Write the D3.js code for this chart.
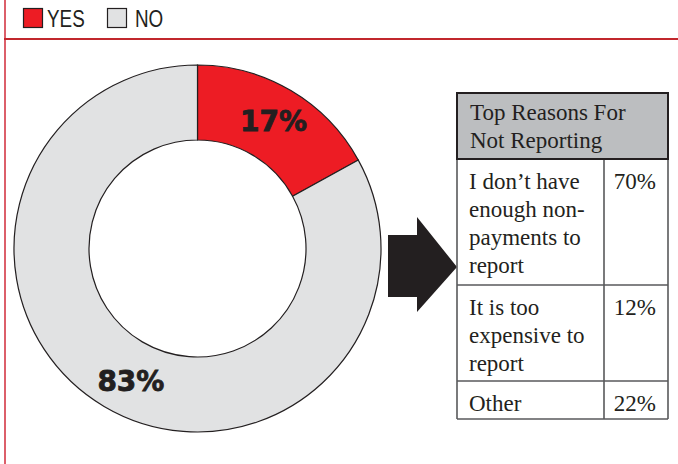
<!DOCTYPE html>
<html>
<head>
<meta charset="utf-8">
<script src="https://cdn.jsdelivr.net/npm/d3@7"></script>
<style>
  html, body { margin: 0; padding: 0; background: #fff; }
  svg { display: block; }
</style>
</head>
<body>
<svg id="chart" width="678" height="464"></svg>
<script>
// Survey answers
const answers = ["YES", "NO"];
const answerShares = [17, 83];
const answerColors = ["#ed1c24", "#e1e2e3"];

// Reasons table
const tableTitle = ["Top Reasons For", "Not Reporting"];
const reasonLines = [
  ["I don\u2019t have", "enough non-", "payments to", "report"],
  ["It is too", "expensive to", "report"],
  ["Other"]
];
const reasonShares = [70, 12, 22];

const svg = d3.select("#chart");
const W = 678, H = 464;
const ink = "#231f20";

// Frame rules
svg.append("line").attr("x1", 5).attr("x2", 5).attr("y1", 0).attr("y2", H)
  .attr("stroke", "#dc5f6a").attr("stroke-width", 2);
svg.append("line").attr("x1", 4).attr("x2", W).attr("y1", 39).attr("y2", 39)
  .attr("stroke", "#c1272d").attr("stroke-width", 2);

// Legend
const legend = svg.append("g");
const legendX = d3.scaleOrdinal().domain(answers).range([23, 107]);
answers.forEach((a, i) => {
  const g = legend.append("g").attr("transform", `translate(${legendX(a)},8)`);
  g.append("rect").attr("x", 0.5).attr("y", 0.5).attr("width", 19).attr("height", 19)
    .attr("fill", answerColors[i]).attr("stroke", ink).attr("stroke-width", 1.2);
  g.append("text")
    .attr("transform", `translate(${i === 0 ? 24 : 28},19) scale(0.82,1)`)
    .attr("font-family", "'Liberation Sans', Arial, sans-serif")
    .attr("font-size", 23).attr("fill", ink).text(a);
});

// Donut
const cx = 197.5, cy = 248.5, rOuter = 183.5, rInner = 108.5;
const pie = d3.pie().sort(null).value(d => d.v);
const arcs = pie(answers.map((a, i) => ({ a, v: answerShares[i], c: answerColors[i] })));
const arc = d3.arc().innerRadius(rInner).outerRadius(rOuter);
const donut = svg.append("g").attr("transform", `translate(${cx},${cy})`);
donut.selectAll("path").data(arcs).join("path")
  .attr("d", arc)
  .attr("fill", d => d.data.c)
  .attr("stroke", ink).attr("stroke-width", 1.2);

// Percentage labels sit mid-ring, just before each slice's angular midpoint
const labelR = 148;
const labelPos = d => {
  const a = d.startAngle + (d.endAngle - d.startAngle) * 0.49;
  return [labelR * Math.sin(a), -labelR * Math.cos(a)];
};
donut.selectAll("text").data(arcs).join("text")
  .attr("transform", d => { const [x, y] = labelPos(d); return `translate(${x + 2},${y + 1})`; })
  .attr("text-anchor", "middle").attr("dy", "0.36em")
  .attr("font-family", "'DejaVu Sans', sans-serif")
  .attr("font-weight", "bold").attr("font-size", 28).attr("fill", ink)
  .attr("stroke", ink).attr("stroke-width", 0.8)
  .text(d => d.data.v + "%");

// Arrow pointing at the table
const arrow = d3.path();
arrow.moveTo(388, 235); arrow.lineTo(417, 235); arrow.lineTo(417, 217);
arrow.lineTo(457, 267); arrow.lineTo(417, 312); arrow.lineTo(417, 297);
arrow.lineTo(388, 297); arrow.closePath();
svg.append("path").attr("d", arrow.toString()).attr("fill", ink);

// Table
const tx0 = 457, tx1 = 668, colX = 604;
const headTop = 93, headBottom = 159;
const lineH = 28, rowPad = 30;
const rowBottoms = [285, 381, 419];
const serif = "'Liberation Serif', 'DejaVu Serif', serif";
const table = svg.append("g");

table.append("rect").attr("x", tx0).attr("y", headTop)
  .attr("width", tx1 - tx0).attr("height", headBottom - headTop)
  .attr("fill", "#bcbec0");
table.append("g").selectAll("text").data(tableTitle).join("text")
  .attr("x", 470).attr("y", (d, i) => 120 + i * lineH)
  .attr("font-family", serif).attr("font-size", 23).attr("fill", ink).text(d => d);

let rowTop = headBottom;
reasonLines.forEach((lines, r) => {
  const bottom = rowBottoms[r];
  table.append("g").selectAll("text").data(lines).join("text")
    .attr("x", 469).attr("y", (d, i) => rowTop + rowPad + i * lineH)
    .attr("font-family", serif).attr("font-size", 23).attr("fill", ink).text(d => d);
  table.append("text").attr("x", 656).attr("y", rowTop + rowPad)
    .attr("text-anchor", "end")
    .attr("font-family", serif).attr("font-size", 23).attr("fill", ink)
    .text(reasonShares[r] + "%");
  table.append("line").attr("x1", tx0).attr("x2", tx1).attr("y1", bottom).attr("y2", bottom)
    .attr("stroke", "#58595b").attr("stroke-width", 1.6);
  rowTop = bottom;
});
// Body grid
[tx0, colX, tx1].forEach(x => {
  table.append("line").attr("x1", x).attr("x2", x).attr("y1", headBottom).attr("y2", rowBottoms[2])
    .attr("stroke", "#58595b").attr("stroke-width", 1.6);
});
// Header border
table.append("rect").attr("x", tx0).attr("y", headTop)
  .attr("width", tx1 - tx0).attr("height", headBottom - headTop)
  .attr("fill", "none").attr("stroke", ink).attr("stroke-width", 2);
</script>
</body>
</html>
